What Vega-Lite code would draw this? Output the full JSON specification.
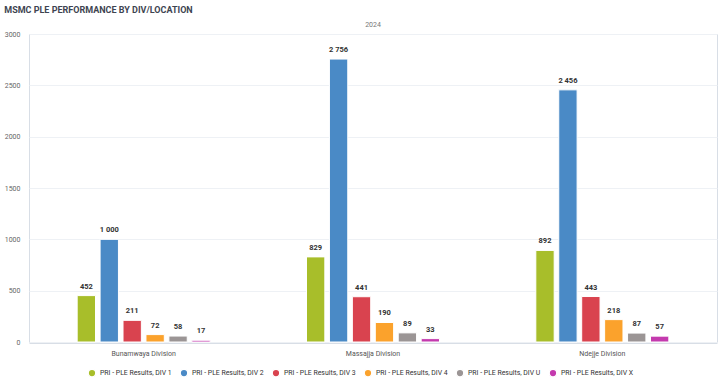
{
  "$schema": "https://vega.github.io/schema/vega-lite/v6.json",
  "background": "white",
  "padding": {"left": 4, "top": 6, "right": 4, "bottom": 4},
  "title": {"text": "MSMC PLE PERFORMANCE BY DIV/LOCATION", "anchor": "start", "font": "Roboto", "fontSize": 9, "fontWeight": "bold", "color": "#3e4451", "offset": 6},
  "data": {"values": [
    {"year": "2024", "location": "Bunamwaya Division", "series": "PRI - PLE Results, DIV 1", "value": 452},
    {"year": "2024", "location": "Bunamwaya Division", "series": "PRI - PLE Results, DIV 2", "value": 1000},
    {"year": "2024", "location": "Bunamwaya Division", "series": "PRI - PLE Results, DIV 3", "value": 211},
    {"year": "2024", "location": "Bunamwaya Division", "series": "PRI - PLE Results, DIV 4", "value": 72},
    {"year": "2024", "location": "Bunamwaya Division", "series": "PRI - PLE Results, DIV U", "value": 58},
    {"year": "2024", "location": "Bunamwaya Division", "series": "PRI - PLE Results, DIV X", "value": 17},
    {"year": "2024", "location": "Massajja Division", "series": "PRI - PLE Results, DIV 1", "value": 829},
    {"year": "2024", "location": "Massajja Division", "series": "PRI - PLE Results, DIV 2", "value": 2756},
    {"year": "2024", "location": "Massajja Division", "series": "PRI - PLE Results, DIV 3", "value": 441},
    {"year": "2024", "location": "Massajja Division", "series": "PRI - PLE Results, DIV 4", "value": 190},
    {"year": "2024", "location": "Massajja Division", "series": "PRI - PLE Results, DIV U", "value": 89},
    {"year": "2024", "location": "Massajja Division", "series": "PRI - PLE Results, DIV X", "value": 33},
    {"year": "2024", "location": "Ndejje Division", "series": "PRI - PLE Results, DIV 1", "value": 892},
    {"year": "2024", "location": "Ndejje Division", "series": "PRI - PLE Results, DIV 2", "value": 2456},
    {"year": "2024", "location": "Ndejje Division", "series": "PRI - PLE Results, DIV 3", "value": 443},
    {"year": "2024", "location": "Ndejje Division", "series": "PRI - PLE Results, DIV 4", "value": 218},
    {"year": "2024", "location": "Ndejje Division", "series": "PRI - PLE Results, DIV U", "value": 87},
    {"year": "2024", "location": "Ndejje Division", "series": "PRI - PLE Results, DIV X", "value": 57}
  ]},
  "facet": {"column": {"field": "year", "type": "nominal", "header": {"title": null, "labelFont": "Roboto", "labelFontSize": 7, "labelColor": "#777777", "labelPadding": 5}}},
  "spec": {
    "width": 688,
    "height": 308,
    "encoding": {
      "x": {"field": "location", "type": "nominal", "title": null, "scale": {"paddingInner": 0.42, "paddingOuter": 0.21},
        "axis": {"labelAngle": 0, "labelFont": "Roboto", "labelFontSize": 7, "labelColor": "#555555", "ticks": false, "domain": true, "domainColor": "#d8dee6", "labelPadding": 6}},
      "xOffset": {"field": "series", "type": "nominal", "scale": {"paddingInner": 0.2}},
      "y": {"field": "value", "type": "quantitative", "title": null, "scale": {"domain": [0, 3000]},
        "axis": {"values": [0, 500, 1000, 1500, 2000, 2500, 3000], "format": "d", "labelFont": "Roboto", "labelFontSize": 7, "labelColor": "#666666", "ticks": false, "domain": false, "labelPadding": 8, "gridColor": "#eef1f5"}}
    },
    "layer": [
      {"mark": {"type": "bar", "stroke": "white", "strokeWidth": 1},
        "encoding": {"color": {"field": "series", "type": "nominal", "title": null,
          "scale": {"range": ["#a8be2a", "#4a8ac6", "#d9434f", "#fba22c", "#9b9595", "#c43aae"]},
          "legend": {"orient": "bottom", "direction": "horizontal", "symbolType": "circle", "symbolSize": 60, "labelFont": "Roboto", "labelFontSize": 6.9, "labelColor": "#333333", "labelOffset": 3, "columnPadding": 5, "offset": 12}}}},
      {"mark": {"type": "text", "baseline": "bottom", "dy": -5, "font": "Roboto", "fontSize": 7.5, "fontWeight": "bold", "color": "#333333"},
        "encoding": {"text": {"field": "value", "type": "quantitative", "format": ",d"}}}
    ]
  },
  "config": {
    "locale": {"number": {"decimal": ".", "thousands": " ", "grouping": [3], "currency": ["", ""]}},
    "view": {"stroke": "#d8dee6"},
    "font": "Roboto",
    "legend": {"layout": {"bottom": {"anchor": "middle"}}}
  }
}
